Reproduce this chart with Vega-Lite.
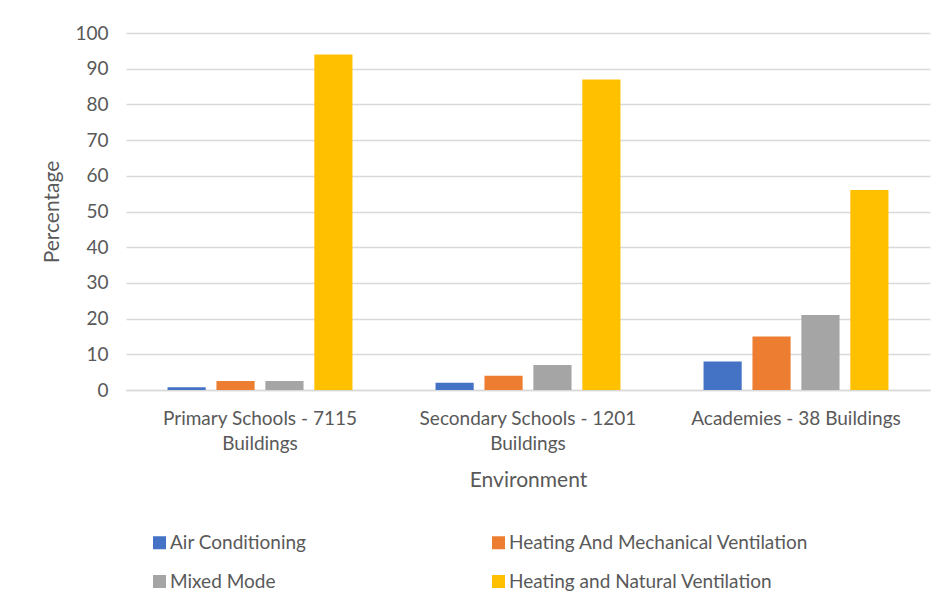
{
  "$schema": "https://vega.github.io/schema/vega-lite/v6.json",
  "width": 804,
  "height": 357,
  "autosize": {"type": "none"},
  "padding": {"left": 126, "top": 33, "right": 14, "bottom": 220},
  "background": "white",
  "config": {
    "font": "Lato",
    "view": {"stroke": null}
  },
  "data": {
    "values": [
      {"env": "Primary Schools - 7115 Buildings", "type": "Air Conditioning", "pct": 0.8},
      {"env": "Primary Schools - 7115 Buildings", "type": "Heating And Mechanical Ventilation", "pct": 2.5},
      {"env": "Primary Schools - 7115 Buildings", "type": "Mixed Mode", "pct": 2.5},
      {"env": "Primary Schools - 7115 Buildings", "type": "Heating and Natural Ventilation", "pct": 94},
      {"env": "Secondary Schools - 1201 Buildings", "type": "Air Conditioning", "pct": 2},
      {"env": "Secondary Schools - 1201 Buildings", "type": "Heating And Mechanical Ventilation", "pct": 4},
      {"env": "Secondary Schools - 1201 Buildings", "type": "Mixed Mode", "pct": 7},
      {"env": "Secondary Schools - 1201 Buildings", "type": "Heating and Natural Ventilation", "pct": 87},
      {"env": "Academies - 38 Buildings", "type": "Air Conditioning", "pct": 8},
      {"env": "Academies - 38 Buildings", "type": "Heating And Mechanical Ventilation", "pct": 15},
      {"env": "Academies - 38 Buildings", "type": "Mixed Mode", "pct": 21},
      {"env": "Academies - 38 Buildings", "type": "Heating and Natural Ventilation", "pct": 56}
    ]
  },
  "mark": {"type": "bar"},
  "encoding": {
    "x": {
      "field": "env", "type": "nominal", "sort": null,
      "scale": {"paddingInner": 0.31, "paddingOuter": 0.155},
      "axis": {
        "title": "Environment",
        "titleFont": "Lato", "titleFontSize": 21, "titleFontWeight": "normal", "titleColor": "#595959", "titlePadding": 16,
        "labelAngle": 0, "labelFontSize": 19, "labelColor": "#595959", "labelPadding": 19, "labelLineHeight": 25, "labelLimit": 400,
        "labelExpr": "datum.value == 'Primary Schools - 7115 Buildings' ? ['Primary Schools - 7115', 'Buildings'] : datum.value == 'Secondary Schools - 1201 Buildings' ? ['Secondary Schools - 1201', 'Buildings'] : datum.value",
        "ticks": false, "domain": true, "domainColor": "#d9d9d9", "domainWidth": 1.5
      }
    },
    "xOffset": {
      "field": "type", "type": "nominal",
      "sort": ["Air Conditioning", "Heating And Mechanical Ventilation", "Mixed Mode", "Heating and Natural Ventilation"],
      "scale": {"paddingInner": 0.22, "paddingOuter": 0}
    },
    "y": {
      "field": "pct", "type": "quantitative",
      "scale": {"domain": [0, 100]},
      "axis": {
        "title": "Percentage",
        "titleFont": "Lato", "titleFontSize": 21, "titleFontWeight": "normal", "titleColor": "#595959", "titlePadding": 12,
        "values": [0, 10, 20, 30, 40, 50, 60, 70, 80, 90, 100],
        "labelFontSize": 19, "labelColor": "#595959", "labelPadding": 18,
        "ticks": false, "domain": false,
        "grid": true, "gridColor": "#d9d9d9", "gridWidth": 1.5
      }
    },
    "color": {
      "field": "type", "type": "nominal",
      "scale": {
        "domain": ["Air Conditioning", "Mixed Mode", "Heating And Mechanical Ventilation", "Heating and Natural Ventilation"],
        "range": ["#4472C4", "#A5A5A5", "#ED7D31", "#FFC000"]
      },
      "legend": {
        "title": null,
        "orient": "none",
        "legendX": 24,
        "legendY": 500,
        "columns": 2,
        "columnPadding": 182,
        "rowPadding": 19,
        "symbolType": "square",
        "symbolSize": 169,
        "symbolStrokeWidth": 0,
        "labelFontSize": 19,
        "labelColor": "#595959",
        "labelOffset": 1,
        "labelLimit": 400
      }
    }
  }
}
